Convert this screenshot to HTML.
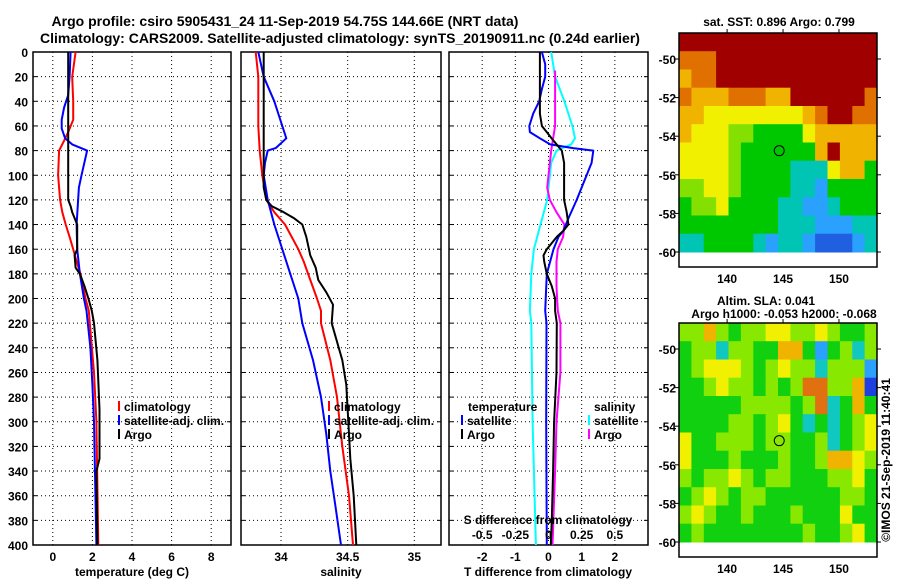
<!DOCTYPE html>
<html><head><meta charset="utf-8"><style>
html,body{margin:0;padding:0;background:#fff;}
svg text{font-family:"Liberation Sans",sans-serif;font-weight:bold;fill:#000;}
</style></head><body>
<svg id="c" width="900" height="580" viewBox="0 0 900 580" xmlns="http://www.w3.org/2000/svg">
<text x="285" y="26" font-size="14" text-anchor="middle">Argo profile: csiro 5905431_24 11-Sep-2019 54.75S 144.66E (NRT data)</text>
<text x="340" y="43" font-size="14" text-anchor="middle">Climatology: CARS2009. Satellite-adjusted climatology: synTS_20190911.nc (0.24d earlier)</text>
<text x="779" y="26" font-size="12" text-anchor="middle">sat. SST: 0.896 Argo: 0.799</text>
<text x="766" y="305" font-size="12" text-anchor="middle">Altim. SLA: 0.041</text>
<text x="784" y="318" font-size="12" text-anchor="middle">Argo h1000: -0.053 h2000: -0.068</text>
<text x="0" y="0" font-size="12" font-weight="normal" text-anchor="middle" transform="translate(890,460) rotate(-90)">©IMOS 21-Sep-2019 11:40:41</text>
<g id="g"></g>
</svg>
<script>
// ---- data ----
const depthTicks=[0,20,40,60,80,100,120,140,160,180,200,220,240,260,280,300,320,340,360,380,400];
const tempTicks=[0,2,4,6,8];
const salTicks=[34,34.5,35];
const salTickLabels=["34","34.5","35"];
const tdiffTicks=[-2,-1,0,1,2];
const sdiffTickLabels=["-0.5","-0.25","0","0.25","0.5"];
const sdiffTickValues=[-0.5,-0.25,0,0.25,0.5];
// temperature profiles
const tArgoDepth=[0,120,125,130,140,160,165,175,180,190,200,210,220,250,290,330,340,400];
const tArgo=[0.78,0.78,0.9,0.98,1.23,1.23,1.1,1.15,1.37,1.6,1.8,1.97,2.08,2.25,2.36,2.36,2.2,2.25];
const tClimDepth=[0,20,40,55,65,72,80,100,120,130,140,150,160,170,180,200,210,220,260,300,400];
const tClim=[1.15,0.98,1.03,1.03,0.78,0.57,0.32,0.27,0.37,0.48,0.65,0.85,1.03,1.2,1.4,1.65,1.82,1.87,2.08,2.2,2.3];
const tSatDepth=[0,20,35,45,55,62,70,75,80,100,110,140,160,180,200,210,240,270,300,400];
const tSat=[0.9,0.85,0.78,0.57,0.45,0.45,0.62,0.98,1.73,1.45,1.32,1.2,1.23,1.37,1.57,1.7,1.9,2.0,2.08,2.2];
// salinity profiles
const sArgoDepth=[0,110,120,125,130,135,140,150,165,175,185,195,205,220,250,270,310,330,360,400];
const sArgo=[33.87,33.87,33.89,33.93,34.02,34.10,34.16,34.19,34.22,34.26,34.28,34.34,34.39,34.38,34.46,34.49,34.51,34.52,34.545,34.565];
const sClimDepth=[0,20,60,80,100,120,130,140,150,160,170,185,200,210,220,250,280,320,360,400];
const sClim=[33.81,33.83,33.83,33.84,33.86,33.89,33.95,34.03,34.08,34.13,34.17,34.22,34.27,34.30,34.30,34.37,34.42,34.46,34.51,34.54];
const sSatDepth=[0,20,40,60,70,78,80,90,100,120,140,160,180,200,220,250,280,310,340,370,400];
const sSat=[33.83,33.87,33.95,34.01,34.04,33.96,33.90,33.88,33.87,33.90,33.95,34.01,34.07,34.13,34.16,34.24,34.30,34.34,34.37,34.41,34.45];
// differences
const dTSatDepth=[0,10,20,30,40,50,60,65,70,75,78,80,90,100,120,135,145,150,160,180,210,220,300,400];
const dTSat=[-0.2,-0.1,-0.1,-0.2,-0.28,-0.46,-0.58,-0.56,-0.26,0.05,0.74,1.35,1.3,1.15,0.85,0.6,0.45,0.3,0.15,-0.05,-0.1,-0.06,-0.07,-0.05];
const dTArgoDepth=[0,50,60,65,72,80,90,120,130,140,145,150,160,165,170,180,190,200,210,220,260,300,340,380,400];
const dTArgo=[-0.26,-0.26,-0.2,-0.05,0.15,0.4,0.47,0.47,0.55,0.6,0.45,0.25,-0.05,-0.15,-0.13,-0.05,0.1,0.2,0.2,0.25,0.24,0.17,0.14,0.1,0.07];
const dSSatDepth=[0,20,40,60,70,75,80,90,110,120,140,160,180,210,220,300,400];
const dSSat=[0.02,0.05,0.12,0.18,0.2,0.17,0.06,0.02,0,-0.01,-0.06,-0.11,-0.13,-0.14,-0.13,-0.12,-0.095];
const dSArgoDepth=[15,40,60,80,100,110,120,130,140,150,160,170,190,200,210,220,260,300,340,400];
const dSArgo=[0.05,0.05,0.05,0.02,0,-0.01,0.01,0.06,0.12,0.11,0.07,0.06,0.06,0.065,0.07,0.09,0.09,0.06,0.05,0.03];
// maps (16 cols x 12 rows, colour class 0..8)
const sstGrid=[
"8888888888888888","7778888888888888","6778888888888888","7666777668888887",
"6655555555678877","6555443333566666","5555433333368666","5555433332225663",
"4455433332213333","3445333322112333","3333333322211122","2233332122100012"];
const slaGrid=[
"4464344554454334","3442443366313424","3455543454424441","3345443434774460",
"3333344443472363","3333443453232345","5334443443342345","5333433343346654",
"4344543443334453","3454344333333443","4543343334333533","3433333333433453"];
const mapLonTicks=[140,145,150];
const mapLatTicks=[-50,-52,-54,-56,-58,-60];
const argoLon=144.66, argoLat=-54.75;
// ---- helpers ----
const NS="http://www.w3.org/2000/svg";
const G=document.getElementById('g');
function mk(tag,attrs,parent){const e=document.createElementNS(NS,tag);for(const k in attrs)e.setAttribute(k,attrs[k]);(parent||G).appendChild(e);return e;}
const Y0=52,Y1=545;
const yD=d=>Y0+(d/400)*(Y1-Y0);
function lin(d0,d1,r0,r1){return v=>r0+(v-d0)/(d1-d0)*(r1-r0);}
const panels=[
 {x0:33,x1:231,name:'temperature-panel',sx:lin(-1,9,33,231)},
 {x0:241,x1:441,name:'salinity-panel',sx:lin(33.7,35.2,241,441)},
 {x0:449,x1:648,name:'difference-panel',sx:lin(-3,3,449,648)}];
const sS=lin(-0.75,0.75,449,648);
panels.forEach(p=>{
 const g=mk('g',{});
 
 
 p.g=g;
 mk('rect',{x:p.x0,y:Y0,width:p.x1-p.x0,height:Y1-Y0,fill:'#fff',stroke:'#000','stroke-width':1.5},g);
 depthTicks.forEach(d=>{if(d>0&&d<400){const l=mk('line',{x1:p.x0,x2:p.x1,y1:yD(d),y2:yD(d),stroke:'#000','stroke-dasharray':'1,3','stroke-width':1},g);
 
 mk('line',{x1:p.x0,x2:p.x0+4,y1:yD(d),y2:yD(d),stroke:'#000'},g);mk('line',{x1:p.x1-4,x2:p.x1,y1:yD(d),y2:yD(d),stroke:'#000'},g);}});
});
// depth labels
depthTicks.forEach(d=>{const t=mk('text',{x:28,y:yD(d)+5,'font-size':12,'text-anchor':'end'});t.textContent=d;
 });
function vgrid(p,vals,labels,sx){vals.forEach((v,i)=>{const x=sx(v);
 mk('line',{x1:x,x2:x,y1:Y0,y2:Y1,stroke:'#000','stroke-dasharray':'1,3'},p.g);
 const t=mk('text',{x:x,y:561,'font-size':12,'text-anchor':'middle'},p.g);t.textContent=labels[i];
 });}
vgrid(panels[0],tempTicks,tempTicks.map(String),panels[0].sx);
vgrid(panels[1],salTicks,salTickLabels,panels[1].sx);
vgrid(panels[2],tdiffTicks,tdiffTicks.map(String),panels[2].sx);
function line(p,xs,ds,sx,col,name){const pts=xs.map((v,i)=>sx(v).toFixed(1)+','+yD(ds[i]).toFixed(1)).join(' ');
 const e=mk('polyline',{points:pts,fill:'none',stroke:col,'stroke-width':2,'stroke-linejoin':'round'},p.g);
 }
const P=panels;
line(P[0],tClim,tClimDepth,P[0].sx,'#f00','temp-climatology-line');
line(P[0],tSat,tSatDepth,P[0].sx,'#00f','temp-satellite-line');
line(P[0],tArgo,tArgoDepth,P[0].sx,'#000','temp-argo-line');
line(P[1],sClim,sClimDepth,P[1].sx,'#f00','sal-climatology-line');
line(P[1],sSat,sSatDepth,P[1].sx,'#00f','sal-satellite-line');
line(P[1],sArgo,sArgoDepth,P[1].sx,'#000','sal-argo-line');
line(P[2],dSSat,dSSatDepth,sS,'#0ff','sdiff-satellite-line');
line(P[2],dSArgo,dSArgoDepth,sS,'#f0f','sdiff-argo-line');
line(P[2],dTSat,dTSatDepth,P[2].sx,'#00f','tdiff-satellite-line');
line(P[2],dTArgo,dTArgoDepth,P[2].sx,'#000','tdiff-argo-line');
// axis titles
[['temperature (deg C)',132,'temperature-axis-title'],['salinity',341,'salinity-axis-title'],['T difference from climatology',548,'tdiff-axis-title']].forEach(a=>{
 const t=mk('text',{x:a[1],y:576,'font-size':12,'text-anchor':'middle'});t.textContent=a[0];
 });
// legends
function leg(x,y,col,txt,name){mk('line',{x1:x,x2:x,y1:y-10,y2:y,stroke:col,'stroke-width':2});
 const t=mk('text',{x:x+5,y:y,'font-size':12});t.textContent=txt;
 }
leg(119,411,'#f00','climatology','legend-climatology');
leg(119,425,'#00f','satellite-adj. clim.','legend-satellite-adj');
leg(119,439,'#000','Argo','legend-argo');
leg(329,411,'#f00','climatology','legend-climatology-sal');
leg(329,425,'#00f','satellite-adj. clim.','legend-satellite-adj-sal');
leg(329,439,'#000','Argo','legend-argo-sal');
let t=mk('text',{x:468,y:411,'font-size':12});t.textContent='temperature';

t=mk('text',{x:594,y:411,'font-size':12});t.textContent='salinity';

leg(462,425,'#00f','satellite','legend-t-satellite');
leg(462,439,'#000','Argo','legend-t-argo');
leg(589,425,'#0ff','satellite','legend-s-satellite');
leg(589,439,'#f0f','Argo','legend-s-argo');
t=mk('text',{x:548,y:524,'font-size':12,'text-anchor':'middle'});t.textContent='S difference from climatology';

sdiffTickValues.forEach((v,i)=>{const e=mk('text',{x:sS(v),y:539,'font-size':12,'text-anchor':'middle'});e.textContent=sdiffTickLabels[i];
 });
// maps
const cols=['#1f5fe0','#2aa0ff','#00c4b4','#00c800','#84e000','#f0f000','#f0b400','#e07000','#a00000'];
const slaCols=['#1f40e0','#2aa0ff','#10c8c0','#10d010','#88e800','#f0f000','#f0b400','#e07010','#a00000'];
const mlon=lin(135.7,153.4,679,877);
function drawMap(oy,grid,cm,name,bottomLbl){
 const g=mk('g',{});
 const mlat=v=>oy+59+(-50-v)*19.3;
 const top=oy+33, bot=oy+267;
 const nr=grid.length,nc=grid[0].length;
 const lat0=-48.65,lat1=-60.0;
 for(let r=0;r<nr;r++)for(let c=0;c<nc;c++){
  const la0=lat0+(lat1-lat0)*r/nr, la1=lat0+(lat1-lat0)*(r+1)/nr;
  const lo0=135.7+(153.4-135.7)*c/nc, lo1=135.7+(153.4-135.7)*(c+1)/nc;
  const x=mlon(lo0),y=mlat(la0);
  const cell=mk('rect',{x:x.toFixed(1),y:y.toFixed(1),width:(mlon(lo1)-x+0.5).toFixed(1),height:(mlat(la1)-y+0.5).toFixed(1),fill:cm[+grid[r][c]]},g);
  
 }
 mk('rect',{x:679,y:top,width:198,height:bot-top,fill:'none',stroke:'#000','stroke-width':1.5},g);
 mapLatTicks.forEach(v=>{const y=mlat(v);mk('line',{x1:877,x2:881,y1:y,y2:y,stroke:'#000'},g);mk('line',{x1:675,x2:679,y1:y,y2:y,stroke:'#000'},g);
  const e=mk('text',{x:676,y:y+5,'font-size':12,'text-anchor':'end'},g);e.textContent=v;
  });
 mapLonTicks.forEach(v=>{const x=mlon(v);mk('line',{x1:x,x2:x,y1:top-4,y2:top,stroke:'#000'},g);
  const e=mk('text',{x:x,y:bot+16,'font-size':12,'text-anchor':'middle'},g);e.textContent=v;
  });
 const m=mk('circle',{cx:mlon(argoLon),cy:mlat(argoLat),r:5,fill:'none',stroke:'#000','stroke-width':1},g);
 
}
drawMap(0,sstGrid,cols,'sst-map');
drawMap(290,slaGrid,slaCols,'sla-map');
</script>
</body></html>
